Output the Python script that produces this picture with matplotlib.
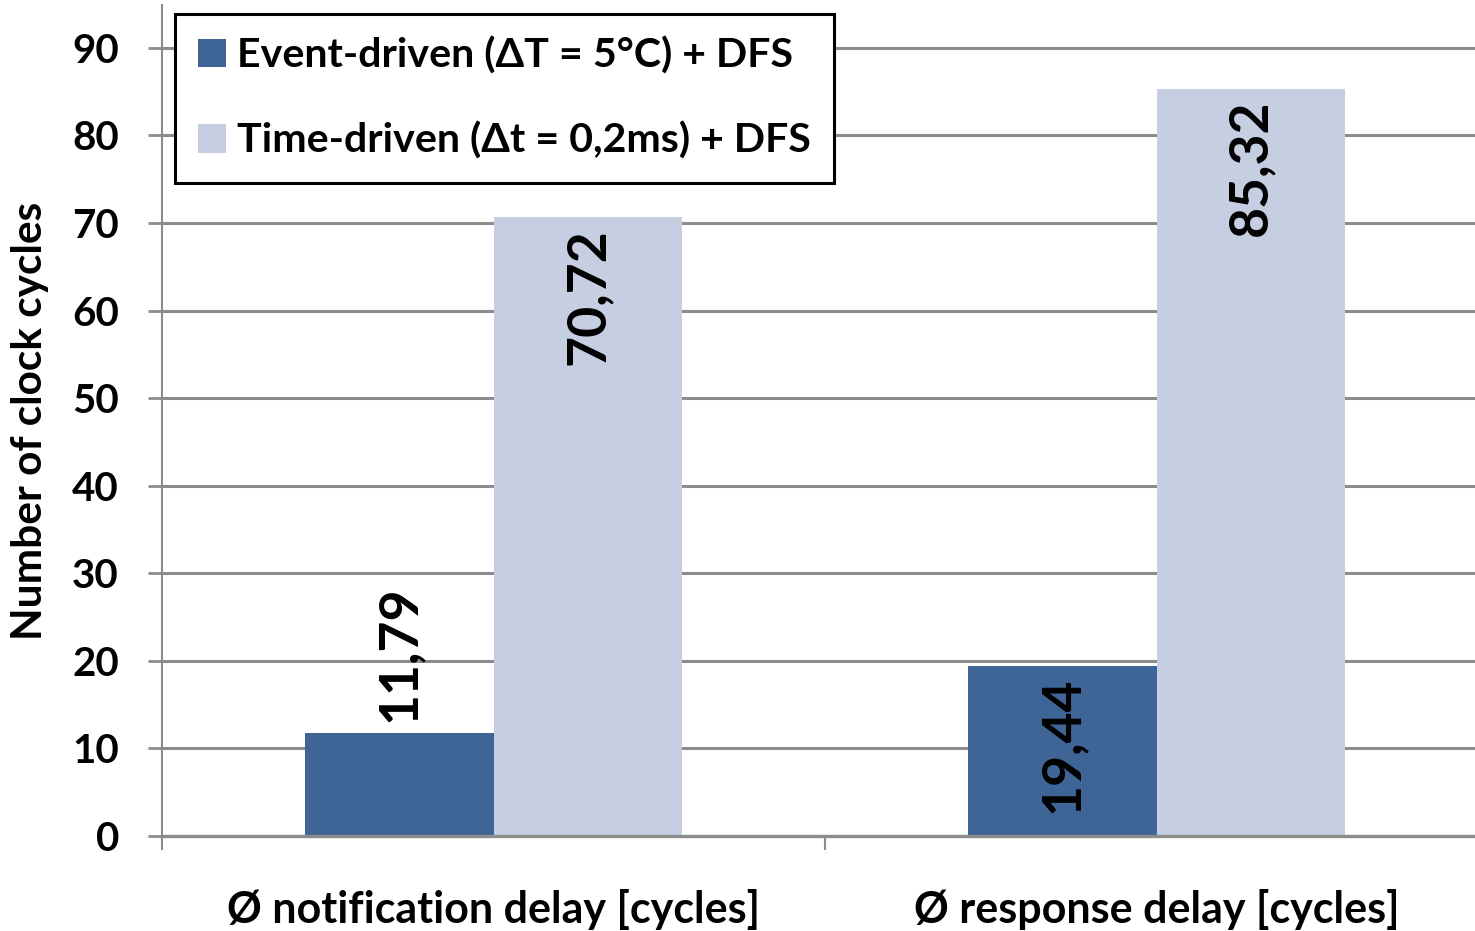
"""
Delay comparison chart
Event-driven vs. time-driven temperature monitoring, both with DFS
"""

import matplotlib.pyplot as plt
import numpy as np

# Chart data
categories = ['Ø notification delay [cycles]', 'Ø response delay [cycles]']
series_names = ['Event-driven (ΔT = 5°C) + DFS', 'Time-driven (Δt = 0,2ms) + DFS']
event_driven = [11.79, 19.44]
time_driven = [70.72, 85.32]
y_ticks = [0, 10, 20, 30, 40, 50, 60, 70, 80, 90]

COLORS = ['#3F6496', '#C6CFE2']
GRID_COLOR = '#8C8C8C'
FONT = ['Lato', 'DejaVu Sans']


def label_bars(ax, bars, values):
    """
    Write the rotated value labels, inside the bar end when there is room
    """
    for bar, value in zip(bars, values):
        text = f'{value:.2f}'.replace('.', ',')
        x = bar.get_x() + bar.get_width() / 2
        y = bar.get_height()
        if value < 15:
            ax.annotate(text, (x, y), xytext=(0, 8), textcoords='offset points',
                        rotation=90, ha='center', va='bottom',
                        fontsize=38.5, fontweight='bold', family=FONT)
        else:
            ax.annotate(text, (x, y), xytext=(0, -8), textcoords='offset points',
                        rotation=90, ha='center', va='top',
                        fontsize=38.5, fontweight='bold', family=FONT)


def create_chart(output='out.png'):
    """
    Build the grouped bar chart and save it
    """
    plt.rcParams['font.family'] = FONT
    plt.rcParams['font.weight'] = 'bold'

    fig = plt.figure(figsize=(14.75, 9.31), dpi=100)
    ax = fig.add_axes([162 / 1475, 95 / 931, 1326 / 1475, 831 / 931])

    centers = np.arange(len(categories)) + 0.5
    width = 0.285

    bars1 = ax.bar(centers - width / 2, event_driven, width, color=COLORS[0],
                   label=series_names[0], zorder=3)
    bars2 = ax.bar(centers + width / 2, time_driven, width, color=COLORS[1],
                   label=series_names[1], zorder=3)

    label_bars(ax, bars1, event_driven)
    label_bars(ax, bars2, time_driven)

    ax.set_xlim(0, len(categories))
    ax.set_ylim(0, 94.9)

    # y axis
    ax.set_yticks(y_ticks)
    ax.set_yticklabels([str(t) for t in y_ticks], fontsize=29, fontweight='bold')
    ax.tick_params(axis='y', direction='out', length=10, width=2,
                   color=GRID_COLOR, pad=21)
    ax.yaxis.grid(True, color=GRID_COLOR, linewidth=2.2, zorder=0)

    # x axis: ticks on category boundaries, labels in the middle
    ax.set_xticks(np.arange(len(categories) + 1))
    ax.set_xticklabels([])
    ax.set_xticks(centers, minor=True)
    ax.set_xticklabels(categories, minor=True, fontsize=31, fontweight='bold')
    ax.tick_params(axis='x', which='major', direction='out', length=10,
                   width=1.5, color=GRID_COLOR)
    ax.tick_params(axis='x', which='minor', length=0, pad=38)

    for side in ['top', 'right']:
        ax.spines[side].set_visible(False)
    ax.spines['left'].set_color(GRID_COLOR)
    ax.spines['left'].set_linewidth(1.5)
    ax.spines['bottom'].set_color(GRID_COLOR)
    ax.spines['bottom'].set_linewidth(2.4)
    ax.spines['bottom'].set_zorder(4)

    fig.text(30 / 1475, 1 - 421 / 931, 'Number of clock cycles', rotation=90,
             ha='center', va='center', fontsize=30.5, fontweight='bold')

    legend = ax.legend(loc='upper left', bbox_to_anchor=(175 / 1475, 1 - 14 / 931),
                       bbox_transform=fig.transFigure, borderaxespad=0,
                       prop={'weight': 'bold', 'size': 29.6},
                       handlelength=0.68, handleheight=0.68, handletextpad=0.28,
                       labelspacing=1.15, borderpad=0.55, fancybox=False,
                       framealpha=1, edgecolor='black')
    legend.get_frame().set_linewidth(2.2)
    legend.set_zorder(5)

    fig.savefig(output, dpi=100)
    plt.close(fig)


def main():
    create_chart()


if __name__ == "__main__":
    main()
